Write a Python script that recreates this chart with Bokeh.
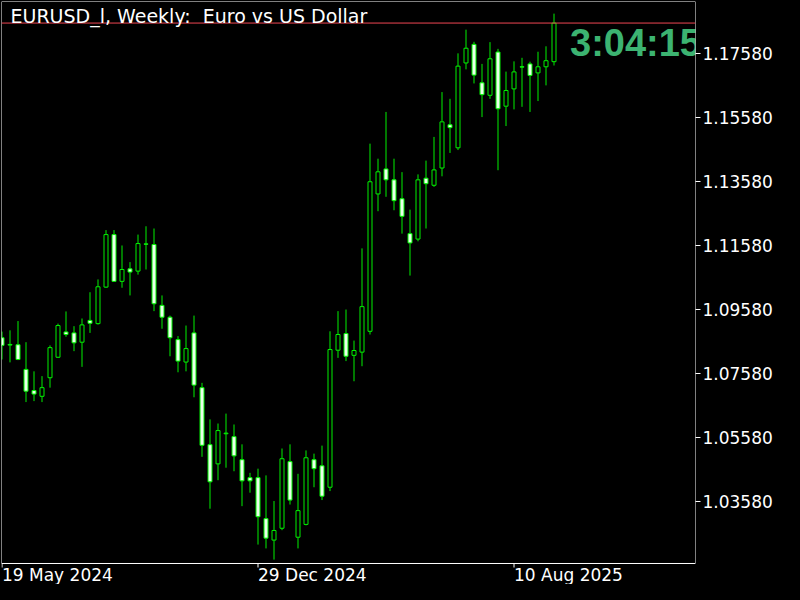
import numpy as np
from bokeh.plotting import figure
from bokeh.models import (ColumnDataSource, FixedTicker, PrintfTickFormatter, Span,
                          Label, Range1d, BoxAnnotation, GlobalInlineStyleSheet)
from bokeh.core.properties import value
from bokeh.embed import file_html
from bokeh.resources import INLINE

# ---------------- data ----------------
symbol_title = "EURUSD_l, Weekly: \u00a0Euro vs US Dollar"
clock_text = "3:04:15"
last_price = 1.18516

opens = [1.0869, 1.0848, 1.0847, 1.0770, 1.0704, 1.0686, 1.0744, 1.0808, 1.0887, 1.0884,
         1.0855, 1.0923, 1.0913, 1.1027, 1.1191, 1.1045, 1.1084, 1.1077, 1.1162, 1.1160,
         1.0970, 1.0933, 1.0863, 1.0793, 1.0884, 1.0713, 1.0535, 1.0475, 1.0569, 1.0560,
         1.0488, 1.0432, 1.0432, 1.0304, 1.0237, 1.0274, 1.0482, 1.0246, 1.0286, 1.0488,
         1.0469, 1.0402, 1.0830, 1.0882, 1.0814, 1.0824, 1.0889, 1.1318, 1.1396, 1.1362,
         1.1303, 1.1194, 1.1177, 1.1367, 1.1345, 1.1399, 1.1534, 1.1462, 1.1727, 1.1785,
         1.1665, 1.1626, 1.1761, 1.1592, 1.1646, 1.1715, 1.1724, 1.1696, 1.1715, 1.1731]
highs = [1.0888, 1.0892, 1.0921, 1.0855, 1.0764, 1.0749, 1.0845, 1.0913, 1.0951, 1.0905,
         1.0929, 1.1011, 1.1051, 1.1205, 1.1205, 1.1157, 1.1105, 1.1191, 1.1217, 1.1210,
         1.1001, 1.0938, 1.0874, 1.0907, 1.0938, 1.0728, 1.0614, 1.0601, 1.0632, 1.0598,
         1.0536, 1.0447, 1.0460, 1.0439, 1.0359, 1.0523, 1.0536, 1.0444, 1.0517, 1.0507,
         1.0532, 1.0889, 1.0952, 1.0957, 1.0860, 1.1148, 1.1475, 1.1428, 1.1574, 1.1428,
         1.1386, 1.1269, 1.1379, 1.1422, 1.1496, 1.1636, 1.1615, 1.1757, 1.1831, 1.1793,
         1.1724, 1.1792, 1.1771, 1.1700, 1.1732, 1.1743, 1.1731, 1.1762, 1.1779, 1.1881]
lows = [1.0801, 1.0792, 1.0799, 1.0668, 1.0671, 1.0668, 1.0713, 1.0806, 1.0872, 1.0827,
        1.0778, 1.0884, 1.0910, 1.1025, 1.1044, 1.1025, 1.1001, 1.1066, 1.1082, 1.0952,
        1.0897, 1.0811, 1.0761, 1.0764, 1.0683, 1.0497, 1.0335, 1.0424, 1.0463, 1.0452,
        1.0343, 1.0385, 1.0223, 1.0211, 1.0176, 1.0268, 1.0348, 1.0211, 1.0283, 1.0402,
        1.0362, 1.0390, 1.0806, 1.0796, 1.0733, 1.0780, 1.0879, 1.1264, 1.1309, 1.1267,
        1.1194, 1.1063, 1.1170, 1.1210, 1.1340, 1.1373, 1.1446, 1.1455, 1.1707, 1.1663,
        1.1558, 1.1615, 1.1392, 1.1530, 1.1582, 1.1590, 1.1574, 1.1608, 1.1657, 1.1719]
closes = [1.0845, 1.0846, 1.0801, 1.0702, 1.0693, 1.0713, 1.0838, 1.0907, 1.0879, 1.0853,
          1.0909, 1.0914, 1.1028, 1.1191, 1.1045, 1.1082, 1.1074, 1.1163, 1.1161, 1.0975,
          1.0933, 1.0869, 1.0796, 1.0835, 1.0721, 1.0533, 1.0419, 1.0579, 1.0571, 1.0500,
          1.0422, 1.0422, 1.0310, 1.0243, 1.0267, 1.0491, 1.0362, 1.0329, 1.0494, 1.0460,
          1.0374, 1.0832, 1.0879, 1.0811, 1.0829, 1.0966, 1.1356, 1.1387, 1.1362, 1.1297,
          1.1248, 1.1165, 1.1362, 1.1350, 1.1393, 1.1543, 1.1525, 1.1717, 1.1773, 1.1689,
          1.1628, 1.1740, 1.1584, 1.1641, 1.1699, 1.1714, 1.1688, 1.1715, 1.1734, 1.18516]

price_ticks = [1.03580, 1.05580, 1.07580, 1.09580, 1.11580, 1.13580, 1.15580, 1.17580]
date_tick_bars = [0, 32, 64]
date_tick_labels = ["19 May 2024", "29 Dec 2024", "10 Aug 2025"]

# ---------------- layout / styling constants ----------------
LIME = "#00f000"
BEAR_FILL = "#eaffea"
BULL_FILL = "#000000"
RED = "#f04652"
FONT = "DejaVu Sans"
PX = 0.00031228            # price per screen pixel
Y_TOP = 1.19189            # price at the top border
Y_BORDER = 1.01639         # price at the bottom border of the chart window
Y_BOTTOM = Y_TOP - 583 * PX  # bottom of the canvas (time scale lives below the border)
Y_DATE_TEXT = Y_BORDER - 11.5 * PX
Y_DATE_TICK = Y_BORDER - 4 * PX

o = np.array(opens); c = np.array(closes)
idx = np.arange(len(opens))
src = ColumnDataSource(dict(
    idx=idx, high=highs, low=lows,
    top=np.maximum(o, c), bottom=np.minimum(o, c),
    fill=[BULL_FILL if cc > oo else BEAR_FILL for oo, cc in zip(opens, closes)],
))

p = figure(width=784, height=584, output_backend="svg", toolbar_location=None,
           x_range=Range1d(-0.0625, 86.6875), y_range=Range1d(Y_BOTTOM, Y_TOP),
           y_axis_location="right",
           min_border_left=1, min_border_top=1, min_border_right=89, min_border_bottom=0,
           background_fill_color="black", border_fill_color="black",
           outline_line_color=None)
p.stylesheets = [GlobalInlineStyleSheet(css="html, body { background-color: #000000; }")]
p.grid.visible = False
p.xaxis.visible = False

# chart window border (stops above the time scale)
p.add_layout(BoxAnnotation(bottom=Y_BORDER, fill_color=None, fill_alpha=0,
                           line_color="white", line_width=1, line_alpha=1.0))

# price axis (right)
ya = p.yaxis[0]
ya.ticker = FixedTicker(ticks=price_ticks)
ya.formatter = PrintfTickFormatter(format="%.5f")
ya.axis_line_color = None
ya.major_tick_line_color = "white"
ya.major_tick_in = 0
ya.major_tick_out = 5
ya.minor_tick_line_color = None
ya.major_label_standoff = 2
ya.major_label_text_color = "white"
ya.major_label_text_font = FONT
ya.major_label_text_font_size = "17px"

# time scale: ticks and left-aligned date texts under the border
p.segment(x0=date_tick_bars, y0=[Y_BORDER] * 3, x1=date_tick_bars, y1=[Y_DATE_TICK] * 3,
          line_color="white", line_width=1)
p.text(x=date_tick_bars, y=[Y_DATE_TEXT] * 3, text=date_tick_labels,
       text_font=value(FONT), text_font_size="17px", text_color="white",
       text_align="left", text_baseline="middle")

# candles
p.segment(x0="idx", y0="high", x1="idx", y1="low", line_color=LIME, line_width=1, source=src)
p.vbar(x="idx", width=0.5, top="top", bottom="bottom", fill_color="fill",
       line_color=LIME, line_width=1, source=src)

# current price line
p.add_layout(Span(location=last_price, dimension="width", line_color=RED, line_width=1))

# countdown clock (clipped by the frame like the original)
p.text(x=[71.0], y=[1.17887], text=[clock_text], text_font=value("Liberation Sans"),
       text_font_style="bold", text_font_size="38px", text_color="#3cb371",
       text_baseline="middle", text_align="left")

# title
p.add_layout(Label(x=9, y=1.18727, x_units="screen", y_units="data", text=symbol_title,
                   text_font=FONT, text_font_size="19px", text_color="white",
                   text_baseline="middle"))

# current price box
price_txt = f"{last_price:.5f}"
p.add_layout(Label(x=697, y=last_price + 0.00032, x_units="screen", y_units="data",
                   text=price_txt, text_font=FONT, text_font_size="17px",
                   text_alpha=0.0, text_baseline="middle", text_align="left",
                   background_fill_color=RED, padding=dict(left=8, right=8, top=3, bottom=3)))
p.add_layout(Label(x=697, y=last_price, x_units="screen", y_units="data",
                   text=price_txt, text_font=FONT, text_font_size="17px",
                   text_color="#101010", text_baseline="middle", text_align="left",
                   background_fill_color="#8291a0", padding=dict(left=8, right=8, top=3, bottom=3)))

open("out.html", "w").write(file_html(p, INLINE))
